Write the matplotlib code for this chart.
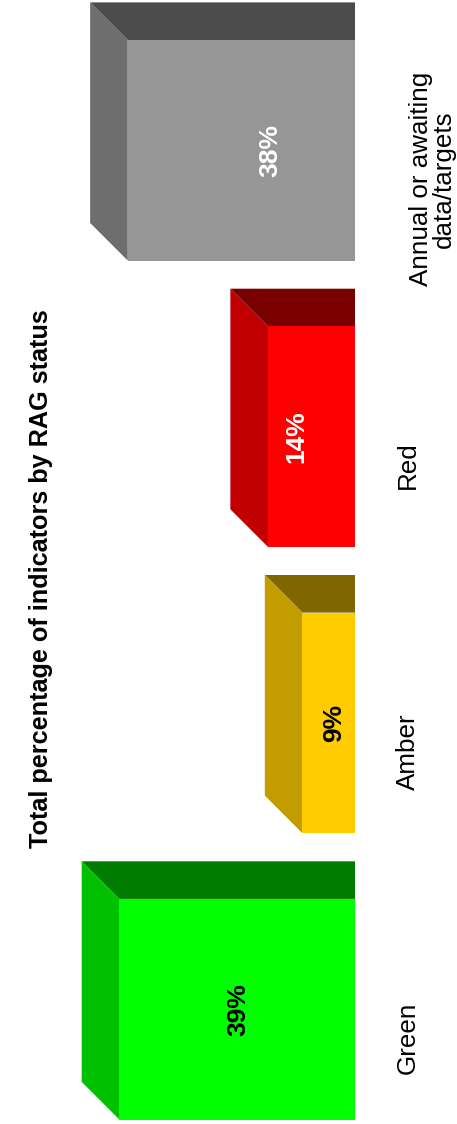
import matplotlib
matplotlib.use('Agg')
import matplotlib.pyplot as plt
from matplotlib.patches import Polygon, Rectangle

plt.rcParams['font.family'] = ['Liberation Sans', 'DejaVu Sans']

# data
categories = ['Green', 'Amber', 'Red', 'Annual or awaiting\ndata/targets']
values = [39.0, 8.7, 14.4, 37.6]
front_colors = ['#00ff00', '#ffcc00', '#ff0000', '#969696']
end_colors = ['#00c000', '#c39c00', '#c00000', '#6e6e6e']
side_colors = ['#007c00', '#806600', '#7a0000', '#4b4b4b']
value_text_colors = ['black', 'black', 'white', 'white']
title = 'Total percentage of indicators by RAG status'

W, H = 457, 1124
px_per_pct = 6.044
px_per_cat = 286.3
base_px = 355.0
first_center_px = 1009.2

fig = plt.figure(figsize=(W / 100, H / 100), dpi=100)
ax = fig.add_axes([0, 0, 1, 1])
ax.set_xlim(base_px / px_per_pct, -(W - base_px) / px_per_pct)
ax.set_ylim((first_center_px - H) / px_per_cat, first_center_px / px_per_cat)
ax.axis('off')

half = 110.3 / px_per_cat
dx = 37.6 / px_per_pct
dy = 37.6 / px_per_cat

# where the value labels sit (pixels from left edge), as in the original
value_label_px = [238, 334, 296, 270]

for i, v in enumerate(values):
    c = i
    # side face (shown on top), clipped at the floor
    ax.add_patch(Polygon([(0, c + half), (v, c + half), (v + dx, c + half + dy), (0, c + half + dy)],
                         closed=True, facecolor=side_colors[i], edgecolor='none'))
    # end face (shown on the left)
    ax.add_patch(Polygon([(v, c - half), (v, c + half), (v + dx, c + half + dy), (v + dx, c - half + dy)],
                         closed=True, facecolor=end_colors[i], edgecolor='none'))
    ax.add_patch(Rectangle((0, c - half), v, 2 * half, facecolor=front_colors[i], edgecolor='none'))
    ax.text((base_px - value_label_px[i]) / px_per_pct, c, f'{round(v)}%', rotation=90,
            ha='center', va='center', fontsize=19, fontweight='bold', color=value_text_colors[i])

label_x = [396, 396, 396, 409]
label_shift = 29 / px_per_cat
for i, lab in enumerate(categories):
    ax.text(-(label_x[i] - base_px) / px_per_pct, i - label_shift, lab, rotation=90,
            ha='left', va='center', fontsize=18.7, multialignment='center', linespacing=0.92)

ax.text((base_px - 41) / px_per_pct, (first_center_px - 579) / px_per_cat, title,
        rotation=90, ha='center', va='center', fontsize=18.2, fontweight='bold')

fig.savefig('out.png', dpi=100, facecolor='white')
